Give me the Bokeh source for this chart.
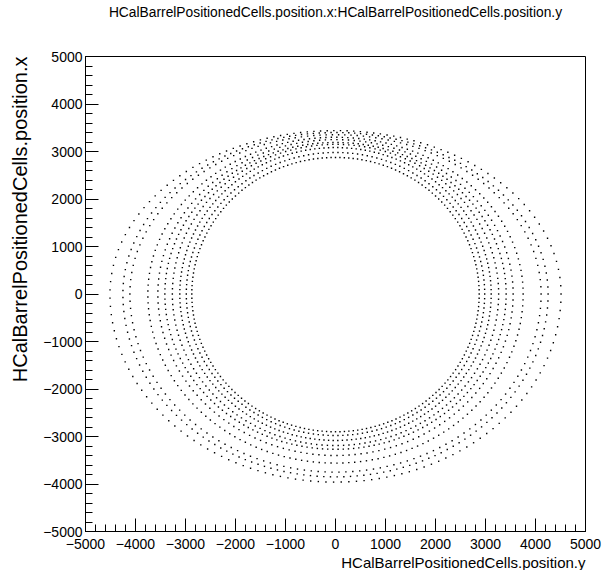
import numpy as np
from bokeh.plotting import figure
from bokeh.models import FixedTicker, CustomJSTickFormatter, ColumnDataSource, Title
from bokeh.embed import file_html
from bokeh.resources import INLINE

# ---- data ----
# each ring of HCal barrel cells: half width (horizontal), top extent, bottom extent
ring_half_width = [2874, 2984, 3114, 3263, 3413, 3553, 3753, 4112, 4252, 4511]
ring_top = [2875, 2980, 3083, 3150, 3190, 3250, 3300, 3354, 3400, 3440]
ring_bottom = [2900, 2980, 3083, 3190, 3270, 3400, 3560, 3750, 3850, 3960]
cells_per_ring = [204, 190, 210, 186, 198, 177, 189, 170, 181, 163]

major_ticks = [-5000, -4000, -3000, -2000, -1000, 0, 1000, 2000, 3000, 4000, 5000]
minor_ticks = list(range(-5000, 5001, 200))

title_text = "HCalBarrelPositionedCells.position.x:HCalBarrelPositionedCells.position.y"
x_title = "HCalBarrelPositionedCells.position.y"
y_title = "HCalBarrelPositionedCells.position.x"

# ---- build the cell positions (cells evenly spread in azimuth) ----
xs, ys = [], []
for a, top, bot, n in zip(ring_half_width, ring_top, ring_bottom, cells_per_ring):
    phi = np.arange(n) * 2 * np.pi / n
    c, s = np.cos(phi), np.sin(phi)
    b = np.where(s >= 0, top, bot)
    r = a * b / np.sqrt((b * c) ** 2 + (a * s) ** 2)
    xs.append(r * c)
    ys.append(r * s)
src = ColumnDataSource(dict(x=np.concatenate(xs), y=np.concatenate(ys)))

FONT = "Liberation Sans"

p = figure(width=605, height=570, x_range=(-5000, 5000), y_range=(-5000, 5000),
           output_backend="svg", toolbar_location=None, title=None,
           min_border_left=84, min_border_right=20, min_border_top=56, min_border_bottom=34)
p.grid.visible = False
p.outline_line_color = "black"
p.outline_line_width = 1
p.background_fill_color = "white"
p.border_fill_color = "white"

p.scatter("x", "y", source=src, marker="square", size=1.4,
          fill_color="black", line_color=None)

fmt = CustomJSTickFormatter(code="return tick < 0 ? '\u2212' + Math.abs(tick) : String(tick);")
for ax in (p.xaxis[0], p.yaxis[0]):
    ax.ticker = FixedTicker(ticks=major_ticks, minor_ticks=minor_ticks)
    ax.formatter = fmt
    ax.major_tick_in = 13
    ax.major_tick_out = 0
    ax.minor_tick_in = 7
    ax.minor_tick_out = 0
    ax.axis_line_color = "black"
    ax.major_tick_line_color = "black"
    ax.minor_tick_line_color = "black"
    ax.major_label_text_font = FONT
    ax.major_label_text_font_size = "14px"
    ax.major_label_text_color = "black"
p.xaxis.major_label_standoff = 7
p.yaxis.major_label_standoff = 3

# white (invisible) spacer next to the frame, then the main title further out
p.add_layout(Title(text="x", text_color="white", text_font=FONT, text_font_size="13px",
                   standoff=18), "above")
p.add_layout(Title(text=title_text, align="center", text_font=FONT, text_font_size="13.8px",
                   text_font_style="normal", text_color="black", standoff=4), "above")

p.add_layout(Title(text=x_title, align="right", text_font=FONT, text_font_size="15px",
                   text_font_style="normal", text_color="black", standoff=0), "below")
p.add_layout(Title(text=y_title, align="right", vertical_align="top", text_font=FONT,
                   text_font_size="20px", text_font_style="normal", text_color="black",
                   standoff=16), "left")

open("out.html", "w").write(file_html(p, INLINE))
